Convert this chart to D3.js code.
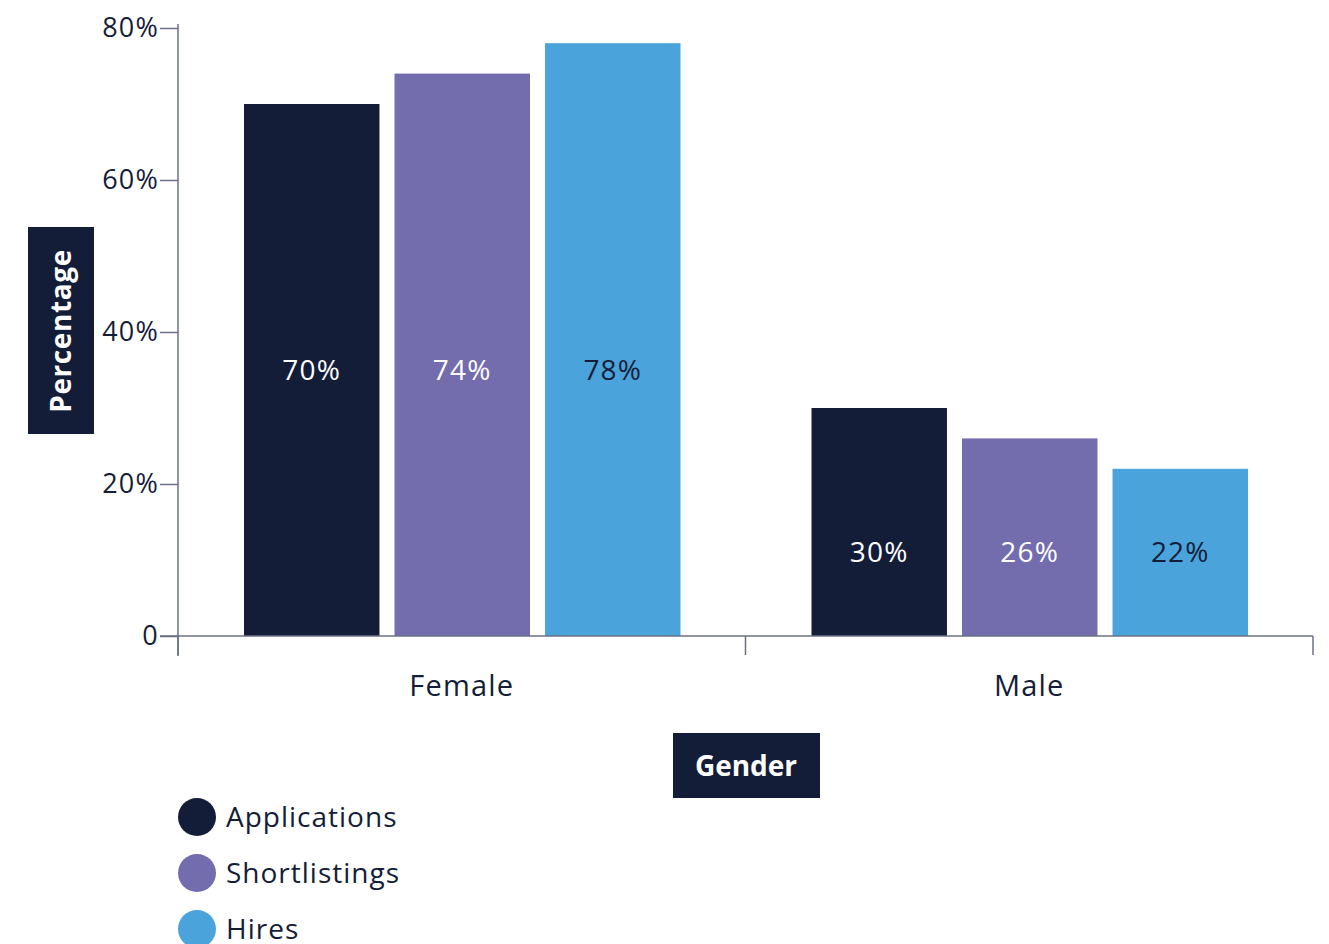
<!DOCTYPE html>
<html>
<head>
<meta charset="utf-8">
<script src="https://cdn.jsdelivr.net/npm/d3@7"></script>
<style>
  html, body { margin: 0; padding: 0; background: #ffffff; }
  svg { display: block; font-family: "Open Sans", "Lato", sans-serif; }
</style>
</head>
<body>
<svg id="chart" width="1329" height="944"></svg>
<script>
// Share of each stage of the hiring funnel, by gender
const genders = ["Female", "Male"];
const stages = ["Applications", "Shortlistings", "Hires"];
const applications = [70, 30];
const shortlistings = [74, 26];
const hires = [78, 22];
const yTicks = [0, 20, 40, 60, 80];
const stageColors = ["#141d38", "#736cad", "#4aa3db"];
const labelColors = ["#ffffff", "#ffffff", "#141d38"];

const seriesValues = [applications, shortlistings, hires];
const rows = genders.map((g, i) => ({
  gender: g,
  values: stages.map((s, j) => ({ stage: s, idx: j, value: seriesValues[j][i] }))
}));

const svg = d3.select("#chart");
const axisColor = "#6b7085";
const textColor = "#141d38";
const fontFamily = "'Open Sans', Lato, sans-serif";

const x0 = d3.scaleBand().domain(genders).range([178, 1313]).paddingInner(0).paddingOuter(0);
const x1 = d3.scaleBand().domain(stages).range([66, x0.bandwidth() - 65]).paddingInner(0.1).paddingOuter(0);
const y = d3.scaleLinear().domain([0, 80]).range([636, 28]);

// Bars
const groups = svg.append("g").selectAll("g")
  .data(rows).join("g")
  .attr("transform", d => `translate(${x0(d.gender)},0)`);

groups.selectAll("rect")
  .data(d => d.values).join("rect")
  .attr("x", d => x1(d.stage))
  .attr("width", x1.bandwidth())
  .attr("y", d => y(d.value))
  .attr("height", d => y(0) - y(d.value))
  .attr("fill", d => stageColors[d.idx]);

// Value labels, aligned at the middle of the shortest bar in each group
groups.each(function (d) {
  const minVal = d3.min(d.values, v => v.value);
  d3.select(this).selectAll("text.val")
    .data(d.values).join("text")
    .attr("class", "val")
    .attr("x", v => x1(v.stage) + x1.bandwidth() / 2)
    .attr("y", y(minVal / 2))
    .attr("dy", "0.35em")
    .attr("text-anchor", "middle")
    .attr("font-size", 28)
    .attr("letter-spacing", 1.2)
    .attr("fill", v => labelColors[v.idx])
    .text(v => v.value + "%");
});

// Y axis
const yAxis = svg.append("g")
  .attr("transform", "translate(178,0)")
  .call(d3.axisLeft(y).tickValues(yTicks).tickSize(18).tickPadding(1)
    .tickFormat(v => v === 0 ? "0" : v + "%"));
yAxis.select(".domain").remove();
yAxis.append("line").attr("x1", 0).attr("x2", 0).attr("y1", 24).attr("y2", 656);
yAxis.selectAll("line").attr("stroke", axisColor).attr("stroke-width", 1.5);
yAxis.selectAll("text").attr("font-size", 27).attr("fill", textColor)
  .attr("letter-spacing", 1.2)
  .attr("font-family", fontFamily);

// X axis
const xAxis = svg.append("g").attr("transform", `translate(0,${y(0)})`);
xAxis.append("line").attr("x1", 160).attr("x2", 1313).attr("y1", 0).attr("y2", 0);
const boundaries = genders.map(g => x0(g)).concat([x0(genders[genders.length - 1]) + x0.bandwidth()]);
xAxis.selectAll("line.tick").data(boundaries).join("line")
  .attr("class", "tick")
  .attr("x1", d => d).attr("x2", d => d).attr("y1", 0).attr("y2", 19);
xAxis.selectAll("line").attr("stroke", axisColor).attr("stroke-width", 1.5);
xAxis.selectAll("text").data(genders).join("text")
  .attr("x", d => x0(d) + x0.bandwidth() / 2)
  .attr("y", 50)
  .attr("dy", "0.35em")
  .attr("text-anchor", "middle")
  .attr("font-size", 29)
  .attr("letter-spacing", 1.2)
  .attr("fill", textColor)
  .text(d => d);

// Axis titles in dark boxes
svg.append("rect").attr("x", 28).attr("y", 227).attr("width", 66).attr("height", 207).attr("fill", textColor);
svg.append("text")
  .attr("transform", "translate(61,331) rotate(-90)")
  .attr("text-anchor", "middle").attr("dy", "0.35em")
  .attr("font-size", 28).attr("font-weight", "bold")
  .attr("letter-spacing", 0.6).attr("fill", "#ffffff")
  .text("Percentage");

svg.append("rect").attr("x", 673).attr("y", 733).attr("width", 147).attr("height", 65).attr("fill", textColor);
svg.append("text")
  .attr("x", 746).attr("y", 766).attr("dy", "0.35em")
  .attr("text-anchor", "middle")
  .attr("font-size", 28).attr("font-weight", "bold").attr("fill", "#ffffff")
  .text("Gender");

// Legend
const legend = svg.append("g").selectAll("g")
  .data(stages).join("g")
  .attr("transform", (d, i) => `translate(197,${817 + i * 56})`);
legend.append("circle").attr("r", 19).attr("fill", (d, i) => stageColors[i]);
legend.append("text")
  .attr("x", 29).attr("dy", "0.35em")
  .attr("font-size", 28).attr("letter-spacing", 1)
  .attr("fill", textColor)
  .text(d => d);
</script>
</body>
</html>
